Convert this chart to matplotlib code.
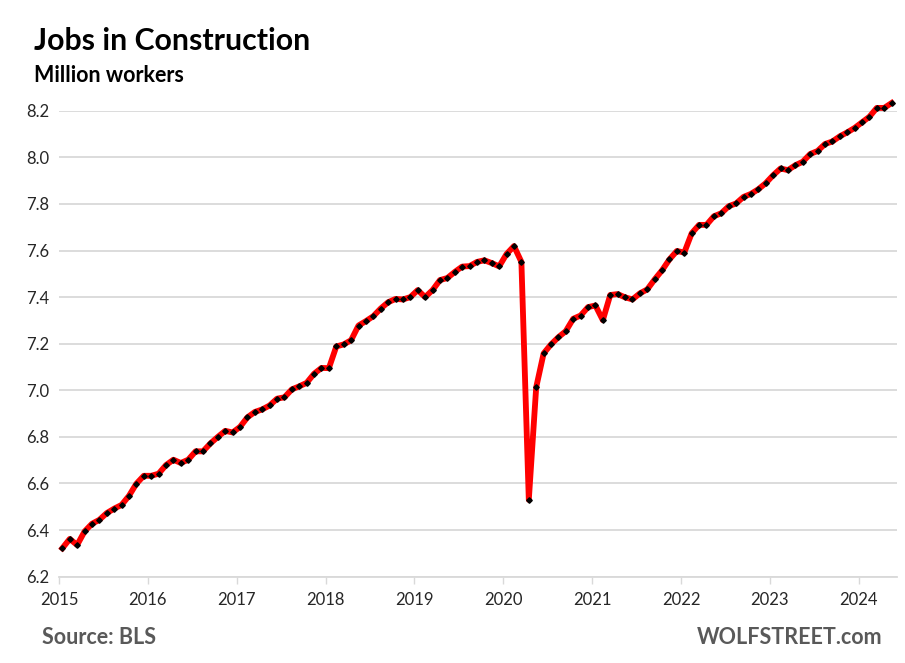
import numpy as np
import matplotlib
matplotlib.use("Agg")
import matplotlib.pyplot as plt

# construction jobs, million workers, monthly from Jan 2015
jobs_2015 = [6.322, 6.362, 6.336, 6.394, 6.427, 6.444, 6.473, 6.492, 6.508, 6.547, 6.599, 6.633]
jobs_2016 = [6.633, 6.642, 6.679, 6.702, 6.688, 6.702, 6.738, 6.738, 6.772, 6.800, 6.826, 6.819]
jobs_2017 = [6.843, 6.884, 6.907, 6.918, 6.935, 6.964, 6.970, 7.004, 7.017, 7.032, 7.071, 7.096]
jobs_2018 = [7.095, 7.188, 7.197, 7.215, 7.278, 7.297, 7.318, 7.351, 7.378, 7.392, 7.390, 7.400]
jobs_2019 = [7.430, 7.400, 7.430, 7.473, 7.482, 7.508, 7.531, 7.533, 7.551, 7.558, 7.546, 7.532]
jobs_2020 = [7.585, 7.619, 7.551, 6.530, 7.013, 7.158, 7.197, 7.228, 7.254, 7.307, 7.321, 7.357]
jobs_2021 = [7.364, 7.301, 7.409, 7.413, 7.399, 7.390, 7.416, 7.433, 7.476, 7.515, 7.562, 7.598]
jobs_2022 = [7.591, 7.674, 7.710, 7.710, 7.747, 7.760, 7.790, 7.802, 7.830, 7.843, 7.863, 7.889]
jobs_2023 = [7.923, 7.952, 7.945, 7.966, 7.981, 8.014, 8.027, 8.057, 8.068, 8.090, 8.107, 8.126]
jobs_2024 = [8.150, 8.174, 8.212, 8.212, 8.233]

start_year = 2015
year_ticks = list(range(2015, 2025))
y_ticks = [6.2, 6.4, 6.6, 6.8, 7.0, 7.2, 7.4, 7.6, 7.8, 8.0, 8.2]

jobs = (jobs_2015 + jobs_2016 + jobs_2017 + jobs_2018 + jobs_2019
        + jobs_2020 + jobs_2021 + jobs_2022 + jobs_2023 + jobs_2024)
# monthly points sit a little after the start of each month
months = start_year + (np.arange(len(jobs)) + 0.45) / 12.0

plt.rcParams['font.family'] = ['Lato', 'DejaVu Sans']

fig = plt.figure(figsize=(9.05, 6.63), dpi=100)
ax = fig.add_axes([0.0652, 0.1302, 0.9258, 0.7028])

ax.plot(months, jobs, color='#ff0000', linewidth=4.2, solid_joinstyle='round',
        marker='D', markersize=2.8, markerfacecolor='black', markeredgecolor='black',
        clip_on=False, zorder=3)

ax.set_xlim(2015, 2024.43)
ax.set_ylim(6.2, 8.2)
ax.set_xticks(year_ticks)
ax.set_xticklabels([str(y) for y in year_ticks])
ax.set_yticks(y_ticks)
ax.set_yticklabels(['%.1f' % v for v in y_ticks])

ax.grid(axis='y', color='#d9d9d9', linewidth=1.3)
ax.set_axisbelow(True)
for side in ('top', 'right', 'left'):
    ax.spines[side].set_visible(False)
ax.spines['bottom'].set_color('#d9d9d9')
ax.spines['bottom'].set_linewidth(1.3)

ax.tick_params(axis='x', direction='out', length=5, width=1.0, color='#d9d9d9',
               labelsize=12, labelcolor='#262626', pad=6)
ax.tick_params(axis='y', length=0, labelsize=12, labelcolor='#262626', pad=7)

fig.text(0.038, 0.925, 'Jobs in Construction', fontsize=21.8, fontweight='bold',
         color='black', ha='left', va='baseline')
fig.text(0.038, 0.877, 'Million workers', fontsize=15.5, fontweight='bold',
         color='black', ha='left', va='baseline')
fig.text(0.046, 0.029, 'Source: BLS', fontsize=15.5, fontweight='bold',
         color='#595959', ha='left', va='baseline')
fig.text(0.975, 0.029, 'WOLFSTREET.com', fontsize=15.5, fontweight='bold',
         color='#595959', ha='right', va='baseline')

fig.savefig('out.png', dpi=100)
